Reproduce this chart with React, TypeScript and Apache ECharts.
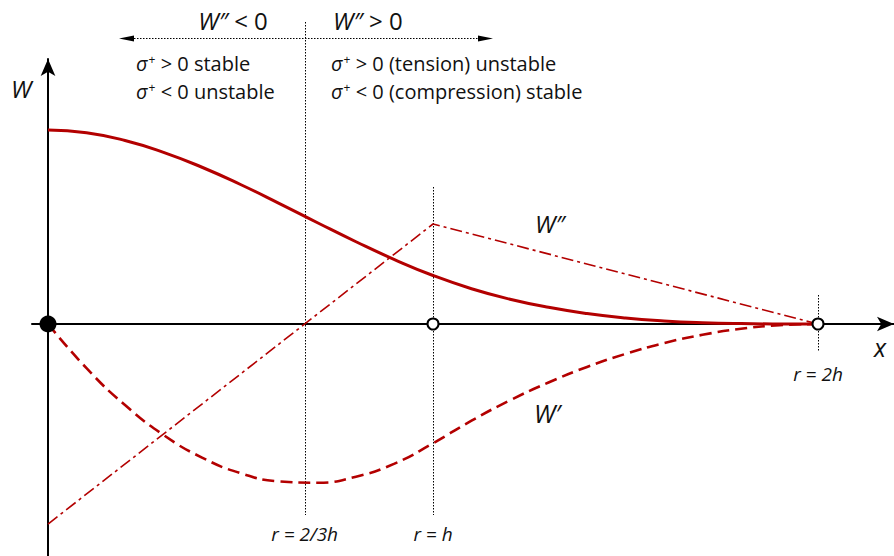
import React, { useEffect, useRef } from "react";
import * as echarts from "echarts";

// Cubic spline kernel and its derivatives, sampled at r/h
const R_SAMPLES = [0, 0.1, 0.2, 0.3, 0.4, 0.5, 0.6, 0.7, 0.8, 0.9, 1.0, 1.1, 1.2, 1.3, 1.4, 1.5, 1.6, 1.7, 1.8, 1.9, 2.0];
const KERNEL_W = [1, 0.986, 0.946, 0.885, 0.808, 0.719, 0.622, 0.522, 0.424, 0.332, 0.25, 0.182, 0.128, 0.086, 0.054, 0.031, 0.016, 0.0068, 0.002, 0.0003, 0];
const KERNEL_DW = [0, -0.278, -0.51, -0.698, -0.84, -0.938, -0.99, -0.998, -0.96, -0.878, -0.75, -0.608, -0.48, -0.368, -0.27, -0.188, -0.12, -0.068, -0.03, -0.008, 0];
const D2W_R = [0, 1, 2];
const KERNEL_D2W = [-3, 1.5, 0];

// Marked radii on the x axis
const MARK_R = [2 / 3, 1, 2];
const MARK_LABELS = ["r = 2/3h", "r = h", "r = 2h"];
const OPEN_MARKS = [1, 2];

const RED = "#b30000";
const INK = "#111111";
const FONT = "'Open Sans', 'DejaVu Sans', sans-serif";

const zip = (xs: number[], ys: number[]) => xs.map((x, i) => [x, ys[i]]);

export default function App() {
  const ref = useRef<HTMLDivElement>(null);

  useEffect(() => {
    if (!ref.current) return;
    const chart = echarts.init(ref.current, undefined, { renderer: "svg" });

    const axisLine = (show: boolean) => ({
      show,
      onZero: true,
      onZeroAxisIndex: 0,
      symbol: ["none", "arrow"],
      symbolSize: [11, 17],
      lineStyle: { color: "#000", width: 2 },
    });
    const hiddenParts = {
      axisTick: { show: false },
      axisLabel: { show: false },
      splitLine: { show: false },
    };

    // zero line sits 265 px below the grid top and 232 px above the bottom
    chart.setOption({
      animation: false,
      backgroundColor: "#ffffff",
      grid: { left: 32, right: 0, top: 59, bottom: 0, containLabel: false },
      xAxis: { type: "value", min: -0.0416, max: 2.1974, axisLine: axisLine(true), ...hiddenParts },
      yAxis: [
        { type: "value", min: -232 / 194, max: 265 / 194, axisLine: axisLine(true), ...hiddenParts },
        { type: "value", min: -232 / 159, max: 265 / 159, show: false, ...hiddenParts },
        { type: "value", min: -232 / 66.67, max: 265 / 66.67, show: false, ...hiddenParts },
      ],
      series: [
        {
          name: "W",
          type: "line",
          yAxisIndex: 0,
          data: zip(R_SAMPLES, KERNEL_W),
          smooth: true,
          showSymbol: false,
          clip: false,
          lineStyle: { color: RED, width: 3 },
          z: 3,
        },
        {
          name: "W′",
          type: "line",
          yAxisIndex: 1,
          data: zip(R_SAMPLES, KERNEL_DW),
          smooth: true,
          showSymbol: false,
          clip: false,
          lineStyle: { color: RED, width: 2.6, type: [12, 6] },
          z: 3,
        },
        {
          name: "W″",
          type: "line",
          yAxisIndex: 2,
          data: zip(D2W_R, KERNEL_D2W),
          showSymbol: false,
          clip: false,
          lineStyle: { color: RED, width: 1.6, type: [12, 4, 3, 4] },
          z: 3,
        },
        {
          type: "scatter",
          data: [[0, 0]],
          symbolSize: 17,
          itemStyle: { color: "#000", opacity: 1 },
          z: 6,
        },
        {
          type: "scatter",
          data: OPEN_MARKS.map((r) => [r, 0]),
          symbolSize: 11,
          itemStyle: { color: "#fff", borderColor: "#000", borderWidth: 2, opacity: 1 },
          z: 6,
        },
      ],
    });

    const px = (x: number, y: number) =>
      chart.convertToPixel({ xAxisIndex: 0, yAxisIndex: 0 }, [x, y]) as number[];

    const dotted = { stroke: "#000", lineWidth: 1, lineDash: [1.5, 1.5] };
    const guideSpans = [
      [22, 515],
      [187, 515],
      [295, 352],
    ];

    const guides = MARK_R.map((r, i) => {
      const x = Math.round(px(r, 0)[0]) + 0.5;
      return {
        type: "line",
        silent: true,
        z: 1,
        shape: { x1: x, y1: guideSpans[i][0], x2: x, y2: guideSpans[i][1] },
        style: dotted,
      };
    });

    const rLabels = MARK_R.map((r, i) => ({
      type: "text",
      silent: true,
      x: px(r, 0)[0],
      y: i === 2 ? 374 : 534,
      style: {
        text: MARK_LABELS[i],
        font: `italic 19px ${FONT}`,
        fill: INK,
        align: "center",
        verticalAlign: "middle",
      },
    }));

    const sigmaRich = {
      s: { fontStyle: "italic", fontSize: 20, fontFamily: FONT, fill: INK },
      p: { fontSize: 12, fontFamily: FONT, fill: INK, verticalAlign: "top", padding: [0, 0, 0, 1] },
    };
    const textAt = (text: string, x: number, y: number, size: number, extra: any = {}) => ({
      type: "text",
      silent: true,
      x,
      y,
      style: {
        text,
        fontSize: size,
        fontFamily: FONT,
        fill: INK,
        verticalAlign: "middle",
        ...extra,
      },
    });

    const headRich = { i: { fontStyle: "italic", fontSize: 24, fontFamily: FONT, fill: INK } };

    chart.setOption({
      graphic: [
        ...guides,
        // region arrow across the top
        {
          type: "line",
          silent: true,
          shape: { x1: 128, y1: 38.5, x2: 484, y2: 38.5 },
          style: dotted,
        },
        {
          type: "polygon",
          silent: true,
          shape: { points: [[119, 38.5], [134, 35.5], [134, 41.5]] },
          style: { fill: "#000" },
        },
        {
          type: "polygon",
          silent: true,
          shape: { points: [[493, 38.5], [478, 35.5], [478, 41.5]] },
          style: { fill: "#000" },
        },
        textAt("{i|W″} < 0", 233, 20, 24, { align: "center", rich: headRich }),
        textAt("{i|W″} > 0", 333, 20, 24, { align: "left", rich: headRich }),
        textAt("{s|σ}{p|+} > 0 stable", 136, 63, 20, { rich: sigmaRich }),
        textAt("{s|σ}{p|+} < 0 unstable", 136, 91, 20, { rich: sigmaRich }),
        textAt("{s|σ}{p|+} > 0 (tension) unstable", 331, 63, 20, { rich: sigmaRich }),
        textAt("{s|σ}{p|+} < 0 (compression) stable", 331, 91, 20, { rich: sigmaRich }),
        textAt("W", 11, 88, 24, { fontStyle: "italic" }),
        textAt("x", 880, 347, 25, { fontStyle: "italic", align: "center" }),
        textAt("W″", 535, 223, 24, { fontStyle: "italic" }),
        textAt("W′", 534, 413, 25, { fontStyle: "italic" }),
        ...rLabels,
      ],
    });

    return () => chart.dispose();
  }, []);

  return (
    <div
      ref={ref}
      style={{ position: "fixed", left: 0, top: 0, width: 894, height: 556, background: "#fff" }}
    />
  );
}
